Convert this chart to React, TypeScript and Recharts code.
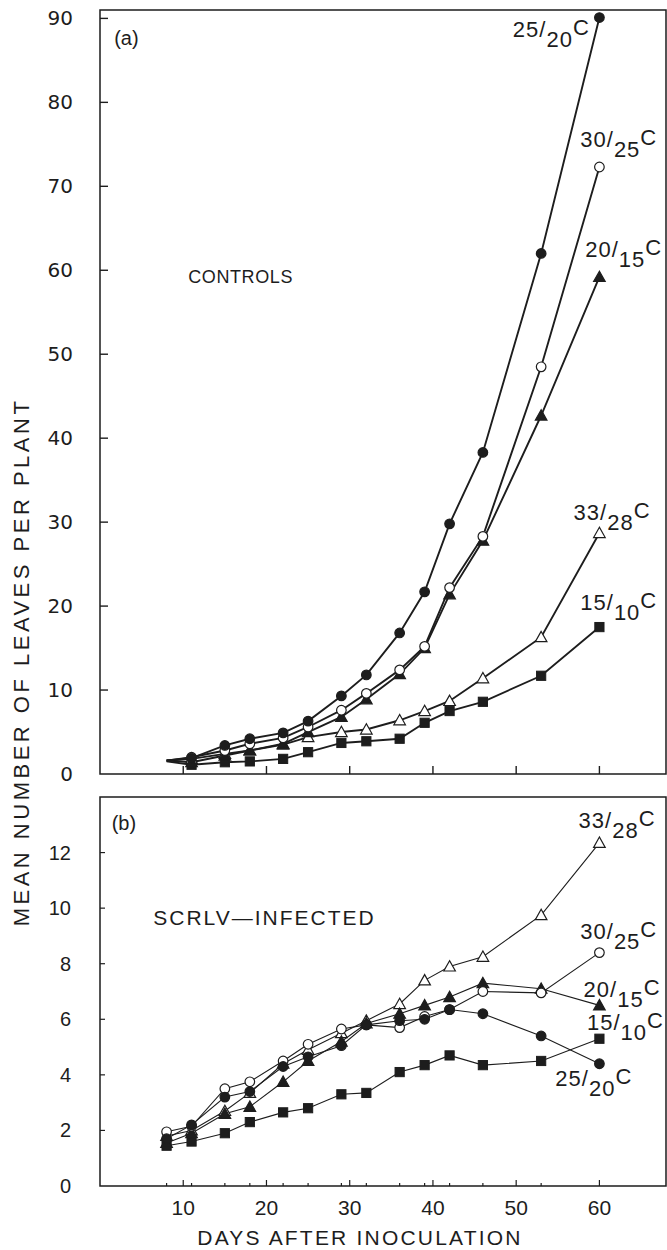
import { LineChart, Line, XAxis, YAxis, ReferenceArea, ReferenceDot } from 'recharts'

const INK = '#1d1d1d'
const SANS = '"Liberation Sans", Arial, Helvetica, sans-serif'
const WIDE = '"DejaVu Sans", sans-serif'

// sampling days (days after inoculation)
const days = [8, 11, 15, 18, 22, 25, 29, 32, 36, 39, 42, 46, 53, 60]
const decades = [10, 20, 30, 40, 50, 60]

// (a) controls - mean leaves per plant
const ctl25_20 = [1.6, 1.9, 3.4, 4.2, 4.9, 6.3, 9.3, 11.8, 16.8, 21.7, 29.8, 38.3, 62.0, 90.1]
const ctl30_25 = [1.6, 2.0, 2.8, 3.6, 4.3, 5.6, 7.6, 9.6, 12.4, 15.2, 22.2, 28.3, 48.5, 72.3]
const ctl20_15 = [1.6, 1.4, 2.2, 2.8, 3.6, 5.0, 6.8, 8.9, 11.9, 15.0, 21.4, 27.8, 42.7, 59.2]
const ctl33_28 = [1.6, 1.8, 2.4, 2.8, 3.5, 4.4, 5.0, 5.3, 6.4, 7.5, 8.7, 11.4, 16.3, 28.7]
const ctl15_10 = [1.5, 1.1, 1.4, 1.5, 1.8, 2.6, 3.7, 3.9, 4.2, 6.1, 7.5, 8.6, 11.7, 17.5]

// (b) SCRLV-infected
const inf25_20 = [1.7, 2.2, 3.2, 3.4, 4.3, 4.65, 5.05, 5.8, 5.95, 6.0, 6.35, 6.2, 5.4, 4.4]
const inf30_25 = [1.95, 2.15, 3.5, 3.75, 4.5, 5.1, 5.65, 5.8, 5.7, 6.1, 6.35, 7.0, 6.95, 8.4]
const inf20_15 = [1.55, 1.9, 2.6, 2.85, 3.75, 4.5, 5.2, 5.85, 6.2, 6.5, 6.8, 7.3, 7.1, 6.5]
const inf33_28 = [1.8, 2.0, 2.7, 3.35, 4.4, 4.9, 5.5, 5.95, 6.55, 7.4, 7.9, 8.25, 9.75, 12.35]
const inf15_10 = [1.45, 1.6, 1.9, 2.3, 2.65, 2.8, 3.3, 3.35, 4.1, 4.35, 4.7, 4.35, 4.5, 5.3]

const ticksA = [0, 10, 20, 30, 40, 50, 60, 70, 80, 90]
const ticksB = [0, 2, 4, 6, 8, 10, 12]
const ticksBottomB = Array.from(new Set([...days, ...decades])).sort((a, b) => a - b)

// curve labels, anchored at (day, value) of the text start
const labelsA = [
  { hi: '25', lo: '20', day: 49.6, val: 87.8 },
  { hi: '30', lo: '25', day: 57.7, val: 74.7 },
  { hi: '20', lo: '15', day: 58.3, val: 61.6 },
  { hi: '33', lo: '28', day: 56.9, val: 30.3 },
  { hi: '15', lo: '10', day: 57.7, val: 19.5 },
]
const labelsB = [
  { hi: '33', lo: '28', day: 57.5, val: 12.9 },
  { hi: '30', lo: '25', day: 57.7, val: 8.9 },
  { hi: '20', lo: '15', day: 58.1, val: 6.8 },
  { hi: '15', lo: '10', day: 58.5, val: 5.6 },
  { hi: '25', lo: '20', day: 54.7, val: 3.6 },
]

const controls = days.map((day, i) => ({
  day, t25: ctl25_20[i], t30: ctl30_25[i], t20: ctl20_15[i], t33: ctl33_28[i], t15: ctl15_10[i],
}))
const infected = days.map((day, i) => ({
  day, t25: inf25_20[i], t30: inf30_25[i], t20: inf20_15[i], t33: inf33_28[i], t15: inf15_10[i],
}))

const series = [
  { key: 't15', shape: 'square', filled: true },
  { key: 't33', shape: 'triangle', filled: false },
  { key: 't20', shape: 'triangle', filled: true },
  { key: 't30', shape: 'circle', filled: false },
  { key: 't25', shape: 'circle', filled: true },
]

function marker(shape: string, filled: boolean, skipDay?: number) {
  return (p: any) => {
    const { cx, cy, index, payload } = p
    const k = `${shape}-${filled}-${index}`
    if (cx == null || cy == null || (skipDay !== undefined && payload?.day === skipDay)) return <g key={k} />
    const fill = filled ? INK : '#fff'
    if (shape === 'circle') {
      return <circle key={k} cx={cx} cy={cy} r={4.8} fill={fill} stroke={INK} strokeWidth={1.2} />
    }
    if (shape === 'square') {
      return <rect key={k} x={cx - 4.6} y={cy - 4.6} width={9.2} height={9.2} fill={fill} stroke={INK} strokeWidth={1} />
    }
    const h = 5.8
    return (
      <polygon
        key={k}
        points={`${cx},${cy - h} ${cx - h},${cy + h * 0.78} ${cx + h},${cy + h * 0.78}`}
        fill={fill}
        stroke={INK}
        strokeWidth={1.2}
      />
    )
  }
}

function TempLabel({ viewBox, hi, lo }: any) {
  if (!viewBox) return null
  const x = viewBox.x + (viewBox.width || 0) / 2
  const y = viewBox.y + (viewBox.height || 0) / 2
  return (
    <text x={x} y={y} fontFamily={SANS} fontSize={22} letterSpacing={1} fill={INK}>
      <tspan>{hi}/</tspan>
      <tspan dy={10}>{lo}</tspan>
      <tspan dy={-12}>C</tspan>
    </text>
  )
}

function NoteLabel({ viewBox, text, size, spacing }: any) {
  if (!viewBox) return null
  const x = viewBox.x + (viewBox.width || 0) / 2
  const y = viewBox.y + (viewBox.height || 0) / 2
  return (
    <text x={x} y={y} fontFamily={SANS} fontSize={size} letterSpacing={spacing} fill={INK}>
      {text}
    </text>
  )
}

const leftTickA = (p: any) => {
  const v = p.payload.value
  return (
    <g>
      {v !== 0 && <line x1={p.x} x2={p.x + 8} y1={p.y} y2={p.y} stroke={INK} strokeWidth={1.4} />}
      <text x={p.x - 27} y={p.y + 7} textAnchor="end" fontFamily={WIDE} fontSize={20} fill={INK}>
        {v}
      </text>
    </g>
  )
}

const leftTickB = (p: any) => {
  const v = p.payload.value
  return (
    <g>
      {v !== 0 && <line x1={p.x} x2={p.x + 5} y1={p.y} y2={p.y} stroke={INK} strokeWidth={1.2} />}
      <text x={p.x - 29} y={p.y + 7} textAnchor="end" fontFamily={SANS} fontSize={20} fill={INK}>
        {v}
      </text>
    </g>
  )
}

const bottomTickA = (p: any) => (
  <line x1={p.x} x2={p.x} y1={p.y} y2={p.y - 8} stroke={INK} strokeWidth={1.4} />
)

const bottomTickB = (p: any) => {
  const v = p.payload.value
  const major = decades.includes(v)
  return (
    <g>
      <line x1={p.x} x2={p.x} y1={p.y} y2={p.y - (major ? 6 : 3)} stroke={INK} strokeWidth={1.2} />
      {major && (
        <text x={p.x} y={p.y + 29} textAnchor="middle" fontFamily={SANS} fontSize={21} fill={INK}>
          {v}
        </text>
      )}
    </g>
  )
}

export default function App() {
  return (
    <div style={{ position: 'absolute', left: 0, top: 0, width: 667, height: 1250, background: '#fff' }}>
      <div style={{ position: 'absolute', left: 0, top: 0 }}>
        <LineChart width={667} height={786} data={controls} margin={{ top: 10, right: 1, bottom: 0, left: 0 }}>
          <ReferenceArea x1={0} x2={68} y1={0} y2={91} fill="#fff" fillOpacity={0} stroke={INK} strokeWidth={1.5} ifOverflow="visible" />
          <XAxis
            type="number"
            dataKey="day"
            domain={[0, 68]}
            ticks={decades}
            interval={0}
            height={12}
            axisLine={false}
            tickLine={false}
            tickSize={0}
            tickMargin={0}
            tick={bottomTickA}
          />
          <YAxis
            type="number"
            domain={[0, 91]}
            ticks={ticksA}
            interval={0}
            width={100}
            axisLine={false}
            tickLine={false}
            tickSize={0}
            tickMargin={0}
            tick={leftTickA}
          />
          {series.map((s) => (
            <Line
              key={s.key}
              type="linear"
              dataKey={s.key}
              stroke={INK}
              strokeWidth={1.9}
              dot={marker(s.shape, s.filled, 8)}
              activeDot={false}
              isAnimationActive={false}
            />
          ))}
          <ReferenceDot x={1.7} y={86.8} r={0} fill="none" stroke="none" label={<NoteLabel text="(a)" size={20} spacing={0} />} />
          <ReferenceDot x={10.6} y={58.5} r={0} fill="none" stroke="none" label={<NoteLabel text="CONTROLS" size={18} spacing={0.6} />} />
          {labelsA.map((l) => (
            <ReferenceDot
              key={`la-${l.hi}`}
              x={l.day}
              y={l.val}
              r={0}
              fill="none"
              stroke="none"
              label={<TempLabel hi={l.hi} lo={l.lo} />}
            />
          ))}
        </LineChart>
      </div>

      <div style={{ position: 'absolute', left: 0, top: 787 }}>
        <LineChart width={667} height={459} data={infected} margin={{ top: 10, right: 1, bottom: 0, left: 0 }}>
          <ReferenceArea x1={0} x2={68} y1={0} y2={14} fill="#fff" fillOpacity={0} stroke={INK} strokeWidth={1.5} ifOverflow="visible" />
          <XAxis
            type="number"
            dataKey="day"
            domain={[0, 68]}
            ticks={ticksBottomB}
            interval={0}
            height={60}
            axisLine={false}
            tickLine={false}
            tickSize={0}
            tickMargin={0}
            tick={bottomTickB}
          />
          <YAxis
            type="number"
            domain={[0, 14]}
            ticks={ticksB}
            interval={0}
            width={100}
            axisLine={false}
            tickLine={false}
            tickSize={0}
            tickMargin={0}
            tick={leftTickB}
          />
          {series.map((s) => (
            <Line
              key={s.key}
              type="linear"
              dataKey={s.key}
              stroke={INK}
              strokeWidth={1.1}
              dot={marker(s.shape, s.filled)}
              activeDot={false}
              isAnimationActive={false}
            />
          ))}
          <ReferenceDot x={1.4} y={12.8} r={0} fill="none" stroke="none" label={<NoteLabel text="(b)" size={20} spacing={0} />} />
          <ReferenceDot x={6.4} y={9.4} r={0} fill="none" stroke="none" label={<NoteLabel text="SCRLV—INFECTED" size={21} spacing={2} />} />
          {labelsB.map((l) => (
            <ReferenceDot
              key={`lb-${l.hi}`}
              x={l.day}
              y={l.val}
              r={0}
              fill="none"
              stroke="none"
              label={<TempLabel hi={l.hi} lo={l.lo} />}
            />
          ))}
        </LineChart>
      </div>

      <svg width={667} height={1250} style={{ position: 'absolute', left: 0, top: 0, pointerEvents: 'none' }}>
        <text
          transform="translate(29, 662) rotate(-90)"
          textAnchor="middle"
          fontFamily={SANS}
          fontSize={22}
          letterSpacing={3.5}
          fill={INK}
        >
          MEAN NUMBER OF LEAVES PER PLANT
        </text>
        <text x={360} y={1245} textAnchor="middle" fontFamily={SANS} fontSize={21} letterSpacing={2.2} fill={INK}>
          DAYS AFTER INOCULATION
        </text>
      </svg>
    </div>
  )
}
